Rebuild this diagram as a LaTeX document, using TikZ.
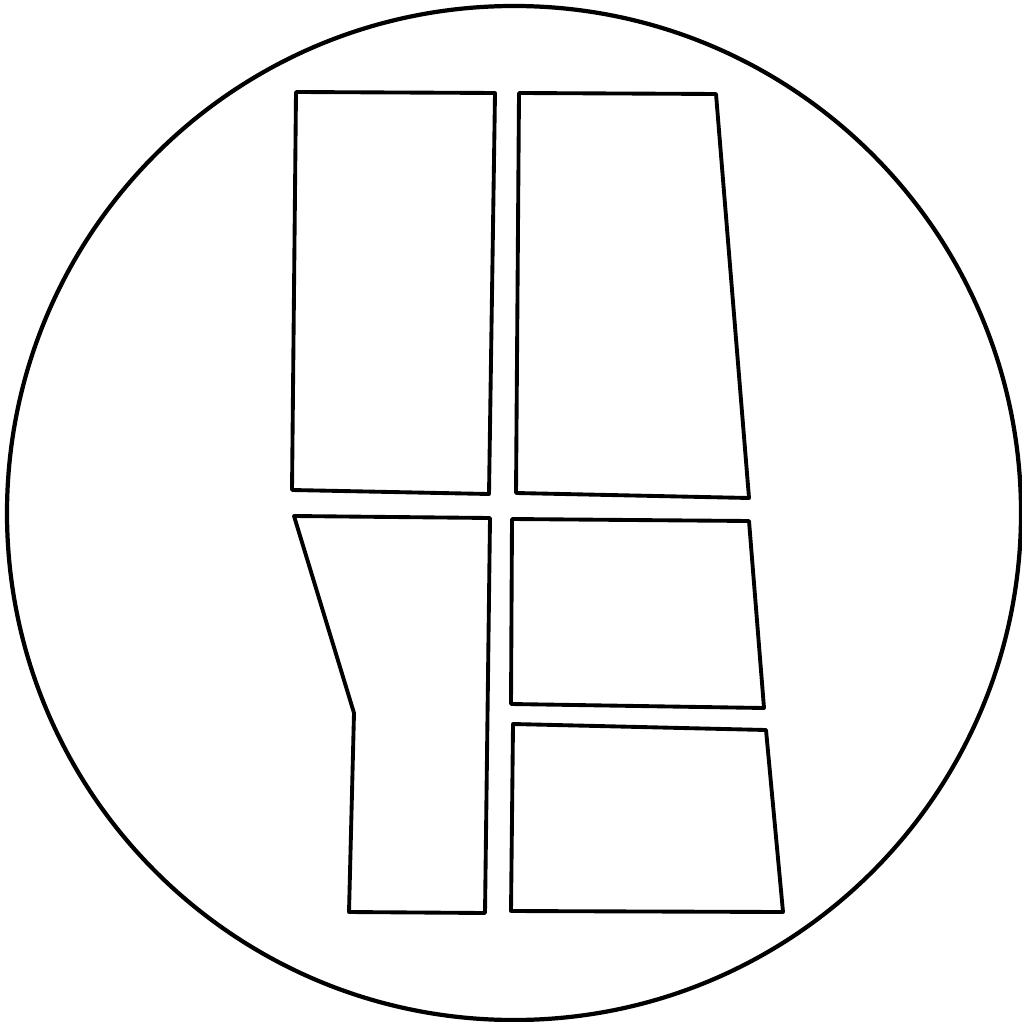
\documentclass[tikz,border=0pt]{standalone}
\usetikzlibrary{calc}
\tikzset{
  rim/.style={line width=1.2pt},
  pane/.style={line width=1.1pt,line join=round},
}
\begin{document}
\begin{tikzpicture}[x=0.01cm,y=-0.01cm]
  % page frame, one unit = one pixel of the original
  \useasboundingbox (0,0) rectangle (1022,1022);
  \draw[rim] (514,513) circle[radius=507];
  % the two tall panes on top
  \draw[pane] (296,92) -- (495,93) -- (489,494) -- (292,490) -- cycle;
  \draw[pane] (519,93) -- (716,94) -- (749,498) -- (516,493) -- cycle;
  % lower left pane, its left side bent in
  \draw[pane] (294,516) -- (490,518) -- (485,913) -- (349,912) -- (354,713) -- cycle;
  % the two short panes on the right
  \draw[pane] (512,519) -- (749,521) -- (764,708) -- (511,704) -- cycle;
  \draw[pane] (513,724) -- (766,730) -- (783,912) -- (511,911) -- cycle;
\end{tikzpicture}
\end{document}
